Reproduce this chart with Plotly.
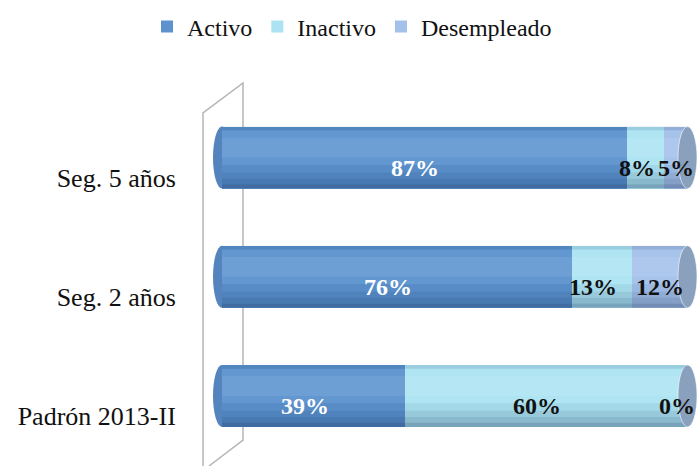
import plotly.graph_objects as go

categories = ["Padrón 2013-II", "Seg. 2 años", "Seg. 5 años"]
activo = [39, 76, 87]
inactivo = [60, 13, 8]
desempleado = [0, 12, 5]
series_names = ["Activo", "Inactivo", "Desempleado"]

colors = ["#5c93cf", "#ace3f2", "#a4c1ea"]
text_colors = ["white", "#111111", "#111111"]
label_xshift = [-9, -9, 0]
cap_color = "#8aa1be"
serif = "Liberation Serif, Cambria, serif"

W, H = 700, 466
X0_PX, X100_PX = 222, 687.5          # pixel of 0% and 100%
SCALE = (X100_PX - X0_PX) / 100
ML, MR, MT, MB = 212, 2, 60, 0
PW, PH = W - ML - MR, H - MT - MB
XR = [-(X0_PX - ML) / SCALE, 100 + (W - MR - X100_PX) / SCALE]
YR = [-0.588, 2.819]
BW = 0.52

def px_to_paper(px, py):
    return (px - ML) / PW, (H - MB - py) / PH

ypos = list(range(len(categories)))
series = [activo, inactivo, desempleado]

fig = go.Figure()
for name, vals, col in zip(series_names, series, colors):
    fig.add_trace(go.Bar(
        y=ypos, x=vals, name=name, orientation="h", width=BW,
        marker=dict(color=col, line=dict(width=0)),
        hoverinfo="x+name",
    ))

# shading profile from top (0) to bottom (1): (t0, t1, rgba)
profile = [
    (0.00, 0.06, "rgba(0,20,60,0.10)"),
    (0.06, 0.18, "rgba(255,255,255,0.04)"),
    (0.18, 0.50, "rgba(255,255,255,0.11)"),
    (0.50, 0.62, "rgba(255,255,255,0.04)"),
    (0.62, 0.74, "rgba(0,20,60,0.05)"),
    (0.74, 0.84, "rgba(0,20,60,0.12)"),
    (0.84, 0.93, "rgba(0,20,60,0.20)"),
    (0.93, 1.00, "rgba(0,20,60,0.30)"),
]

cap_half = 9.5 / SCALE
left_half = 9.0 / SCALE

shapes = []
annotations = []
for i, y in enumerate(ypos):
    tot = sum(s[i] for s in series)
    top = y + BW / 2
    # left rounded end
    shapes.append(dict(type="circle", xref="x", yref="y", layer="below",
                       x0=-left_half, x1=left_half, y0=y - BW / 2, y1=y + BW / 2,
                       fillcolor="#5484bd", line=dict(width=0)))
    for t0, t1, c in profile:
        shapes.append(dict(type="rect", xref="x", yref="y", layer="above",
                           x0=0, x1=100, y0=top - t1 * BW, y1=top - t0 * BW,
                           fillcolor=c, line=dict(width=0)))
    # right cap
    shapes.append(dict(type="circle", xref="x", yref="y", layer="above",
                       x0=100 - cap_half, x1=100 + cap_half, y0=y - BW / 2, y1=y + BW / 2,
                       fillcolor=cap_color, line=dict(width=1, color="rgba(255,255,255,0.6)")))
    cum = 0
    for k, s in enumerate(series):
        v = s[i] / tot * 100
        cx = cum + v / 2
        if v == 0:
            cx = 97.7
        annotations.append(dict(x=cx, y=y, xref="x", yref="y", text=f"{s[i]}%",
                                showarrow=False, yshift=-10, xshift=label_xshift[k],
                                font=dict(family=serif, size=24, color=text_colors[k], weight="bold")))
        cum += v

# side wall
pts = [(203, 466), (203, 113), (243, 83), (243, 440), (209, 466)]
path = ""
for j, (a, b) in enumerate(pts):
    xp, yp = px_to_paper(a, b)
    path += ("M" if j == 0 else "L") + f"{xp:.4f},{yp:.4f} "
shapes.append(dict(type="path", xref="paper", yref="paper", path=path,
                   line=dict(color="#b5b5b5", width=1.5), layer="below"))

fig.update_layout(
    width=W, height=H,
    margin=dict(l=ML, r=MR, t=MT, b=MB, autoexpand=False),
    barmode="stack", barnorm="percent",
    plot_bgcolor="white", paper_bgcolor="white",
    showlegend=True,
    legend=dict(orientation="h", traceorder="normal",
                x=352 / W, xref="container", xanchor="center",
                y=1 - 27 / H, yref="container", yanchor="middle",
                font=dict(family=serif, size=24, color="#111111"),
                itemclick=False, itemwidth=30),
    xaxis=dict(range=XR, visible=False, fixedrange=True),
    yaxis=dict(range=YR, tickvals=[y - 0.17 for y in ypos], ticktext=categories,
               showgrid=False, zeroline=False, showline=False,
               ticks="outside", ticklen=30, tickcolor="rgba(0,0,0,0)",
               tickfont=dict(family=serif, size=26, color="#111111"),
               fixedrange=True),
    shapes=shapes,
    annotations=annotations,
)

fig.write_html("out.html", config={"displayModeBar": False},
               post_script="document.body.style.margin='0';")
